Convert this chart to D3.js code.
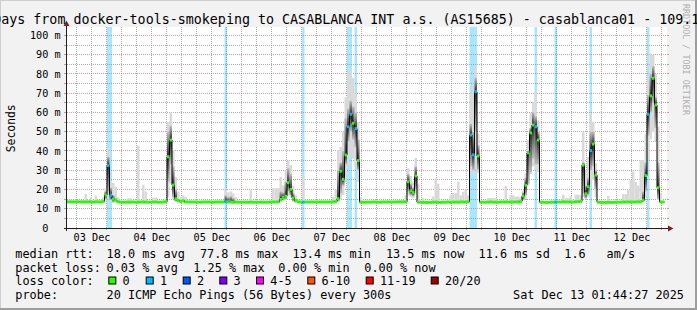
<!DOCTYPE html>
<html>
<head>
<meta charset="utf-8">
<script src="https://cdn.jsdelivr.net/npm/d3@7"></script>
<style>
  body { margin: 0; background: #f2f2f2; }
  svg { display: block; }
  text { font-family: "DejaVu Sans Mono", monospace; fill: #000; }
</style>
</head>
<body>
<svg id="chart" width="697" height="310"></svg>
<script>
// hourly medians (ms), hour 0 = Dec 3 02:00
const median = [
  13.6,13.6,13.6,13.6,13.6,13.6,13.6,13.5,13.6,13.6,13.5,13.6,13.6,13.6,13.8,17.1,32.4,17.0,15.0,14.6,13.6,13.4,13.4,13.4,
  13.4,13.4,13.5,13.4,13.4,13.5,13.5,13.4,13.4,13.4,13.5,13.5,13.4,13.4,13.5,13.6,37.0,45.7,22.3,15.2,14.3,13.8,14.2,13.5,
  13.5,13.5,13.5,13.5,13.4,13.4,13.5,13.5,13.5,13.5,13.4,13.5,13.5,13.5,13.5,13.7,13.6,13.5,13.4,13.4,13.4,13.4,13.4,13.4,
  13.4,13.4,13.4,13.4,13.4,13.4,13.4,13.4,13.4,13.5,13.5,13.5,13.6,14.8,15.8,16.5,23.5,20.1,15.6,14.2,13.6,13.5,13.4,13.5,
  13.5,13.5,13.5,13.5,13.5,13.5,13.5,13.5,13.5,13.5,13.6,13.8,15.2,29.5,25.3,37.9,52.6,59.1,54.4,51.6,35.0,13.4,13.4,13.4,
  13.4,13.4,13.5,13.5,13.4,13.4,13.5,13.5,13.5,13.5,13.5,13.5,13.6,13.6,13.6,13.6,24.0,19.4,18.5,27.0,13.4,13.4,13.3,13.3,
  13.3,13.3,13.4,13.4,13.3,13.3,13.4,13.4,13.5,13.3,13.4,13.4,13.4,13.5,13.5,13.5,13.6,48.3,38.0,70.8,37.4,13.4,13.4,13.4,
  13.4,13.5,13.4,13.4,13.4,13.5,13.5,13.5,13.5,13.5,13.5,13.5,13.6,13.8,16.7,22.2,39.1,49.4,53.5,52.6,45.7,13.4,13.4,13.3,
  13.3,13.4,13.4,13.5,13.5,13.5,13.6,13.5,13.5,13.5,13.5,13.6,13.7,13.8,32.7,17.8,21.5,40.2,43.6,27.5,13.4,13.3,13.3,13.3,
  13.3,13.3,13.3,13.4,13.4,13.4,13.5,13.5,13.5,13.5,13.5,13.5,13.6,13.6,14.5,27.2,59.1,68.6,77.8,63.9,20.9,13.5,13.5,null
];

// hours with lost pings, and how many of 20 were lost
const lossHours = [16, 17, 63, 94, 112, 113, 115, 161, 162, 163, 187, 195, 209, 232];
const lossCounts = [1, 1, 1, 1, 1, 1, 1, 1, 1, 1, 1, 1, 1, 1];

// smoke: [hour, lowest ping, highest ping]
const smokeOuter = [
  [7,13,17.7],[9,13,15.8],[11,13,16.7],[14,13,16],[15,14,20.5],[16,16,40.8],[17,14,24],[18,13,23.4],[19,13,21.5],[20,13,16],
  [24,13,15.5],[25,13,15.5],[28,13,42.8],[30,13,22.5],[31,13,19],[34,13,15.8],[35,13,15.8],
  [39,13,15],[40,16,55],[41,23,60],[42,15,40.5],[43,13.5,26.6],[44,13,19],[45,13,16],[46,13,17],[47,13,16],
  [63,13,20],[64,13,18.5],[65,13,19],[66,13,18],[67,13,16],[73,13,19.6],
  [82,13,20.7],[83,13,20.7],[84,13,20.7],[85,13.5,26.6],[86,14,22],[87,14.5,30],[88,17,35],[89,16,32.7],[90,13.5,22],[91,13,17],
  [94,13,27],
  [106,13,16],[107,13,20],[108,13.5,40.5],[109,15,42],[110,17,50],[111,24,68],[112,32,81],[113,38,82],[114,36,78],[115,32,70],[116,24,55],[117,13,16],
  [135,13,17],[136,17,31],[137,16,27],[138,15.5,24],[139,18,36.5],[140,13,23],
  [142,13,15.6],[146,13,16.3],[147,13,25.8],[148,13,23],[153,13,17],[154,13,18.2],[155,13,18.2],[156,13,24],[157,13,17],[158,13,18.8],[159,13,20],[160,13,17],
  [161,28.6,70],[162,28,75],[163,30,84.7],[164,28.6,49],
  [168,13,15.6],[169,13,15.6],[170,13,15.6],[171,13,15.6],[175,13,21.8],[177,13,17],[178,13,17],[179,13,16.3],[180,13,16.3],
  [181,13,16],[182,14,19.5],[183,15,28.5],[184,22,45.7],[185,28,59.7],[186,32,65.6],[187,30,70.8],[188,29,56],
  [198,13,17.3],[199,13,15.5],[200,13,15.5],[201,13,16.6],[203,13,17.3],[204,13,17.3],
  [205,13.5,17],[206,16,50],[207,15,30],[208,16,37],[209,24,59.7],[210,25,55],[211,16,33.7],
  [216,13,16.6],[222,13,17.6],[223,13,17.6],[224,13,20],[225,13,25],[226,13,29.3],[227,13,24],[228,13,22],[229,13,35.3],
  [230,13.5,35.3],[231,16,49],[232,35,77],[233,46,90.7],[234,50,90],[235,45,80],[236,14.5,52.6],[237,13,18]
];

// dense part of the smoke: [hour, low, high]
const smokeCore = [
  [15,15,19],[16,19,37],[17,14.5,21],[18,13.5,17],
  [40,24,50],[41,33,53],[42,16,32],[43,14,20],
  [63,13.5,17],[64,13.5,16],[65,13.5,16.5],[66,13.5,15.5],
  [85,14,19],[86,14.5,18.5],[87,15,24],[88,19,31],[89,17,28],[90,14,18],
  [108,14,30],[109,18,34],[110,22,40],[111,33,57],[112,45,62],[113,50,66],[114,46,63],[115,42,60],[116,30,46],
  [136,19,28],[137,17,23],[138,16.5,21],[139,20,32],
  [161,32,54],[162,30,50],[163,50,78],[164,30,43],
  [182,14.5,18.5],[183,17,26],[184,23,40],[185,29,52],[186,36,60],[187,33,58],[188,33,50],
  [206,18,34],[207,15.5,22],[208,17,26],[209,30,50],[210,32,50],[211,20,30],
  [230,14,19],[231,19,34],[232,48,69],[233,60,80],[234,65,84],[235,52,68],[236,15,34]
];

const yTicks = [0, 10, 20, 30, 40, 50, 60, 70, 80, 90, 100];
const dayLabels = ["03 Dec", "04 Dec", "05 Dec", "06 Dec", "07 Dec", "08 Dec", "09 Dec", "10 Dec", "11 Dec", "12 Dec"];

const lossLabels = ["0", "1", "2", "3", "4-5", "6-10", "11-19", "20/20"];
const lossColors = ["#26ff00", "#00b8ff", "#0059ff", "#7e00ff", "#ff00ff", "#ff5500", "#ff0000", "#a10000"];
const lossSwatchX = [108.3, 145.7, 182.7, 219.3, 256, 307.3, 365.7, 430.7];

const title = "10 Days from docker-tools-smokeping to CASABLANCA INT a.s. (AS15685) - casablanca01 - 109.1";
const rttLine = [["median rtt:", 16], ["18.0 ms avg", 107.3], ["77.8 ms max", 200.7], ["13.4 ms min", 293.3],
                 ["13.5 ms now", 386.7], ["11.6 ms sd", 479.3], ["1.6", 565], ["am/s", 607.3]];
const lossLine = [["packet loss:", 16], ["0.03 % avg", 107.3], ["1.25 % max", 194], ["0.00 % min", 279], ["0.00 % now", 365]];
const probeText = "20 ICMP Echo Pings (56 Bytes) every 300s";
const stampText = "Sat Dec 13 01:44:27 2025";

const svg = d3.select("#chart");
const pLeft = 67, pRight = 667, pTop = 27, pBottom = 228;
const t0 = Date.UTC(2025, 11, 3, 2);
const HOUR = 36e5;

const x = d3.scaleUtc().domain([new Date(t0), new Date(t0 + 240 * HOUR)]).range([pLeft, pRight]);
const y = d3.scaleLinear().domain([0, 104.4]).range([pBottom, pTop]);
const hx = h => x(new Date(t0 + h * HOUR));

const gridCol = "rgba(143,143,143,0.75)";
const mgridCol = "rgba(222,79,79,0.6)";

// background + bevel
svg.append("rect").attr("width", 697).attr("height", 310).attr("fill", "#f2f2f2");
svg.append("rect").attr("x", 0).attr("y", 0).attr("width", 697).attr("height", 1).attr("fill", "#cfcfcf");
svg.append("rect").attr("x", 0).attr("y", 0).attr("width", 1).attr("height", 310).attr("fill", "#cfcfcf");
svg.append("rect").attr("x", 0).attr("y", 308).attr("width", 697).attr("height", 2).attr("fill", "#9e9e9e");
svg.append("rect").attr("x", 695).attr("y", 0).attr("width", 2).attr("height", 310).attr("fill", "#9e9e9e");

svg.append("rect").attr("x", pLeft).attr("y", pTop).attr("width", pRight - pLeft).attr("height", pBottom - pTop).attr("fill", "#fff");

// grid
const grid = svg.append("g").attr("shape-rendering", "crispEdges");
const hours6 = d3.utcHour.every(6).range(x.domain()[0], x.domain()[1]);
hours6.forEach(d => {
  const major = d.getUTCHours() === 0;
  const px = Math.round(x(d)) - 0.5;
  grid.append("line").attr("x1", px).attr("x2", px).attr("y1", pTop).attr("y2", pBottom)
    .attr("stroke", major ? mgridCol : gridCol).attr("stroke-dasharray", "1,1");
  grid.append("line").attr("x1", px).attr("x2", px).attr("y1", pBottom).attr("y2", pBottom + 2)
    .attr("stroke", major ? mgridCol : gridCol);
});
d3.range(5, 101, 5).forEach(v => {
  const major = v % 10 === 0;
  const py = Math.floor(y(v)) + 0.5;
  const c = major ? mgridCol : gridCol;
  grid.append("line").attr("x1", pLeft).attr("x2", pRight).attr("y1", py).attr("y2", py)
    .attr("stroke", c).attr("stroke-dasharray", "1,1");
  grid.append("line").attr("x1", pLeft - 3).attr("x2", pLeft).attr("y1", py).attr("y2", py).attr("stroke", c);
  grid.append("line").attr("x1", pRight).attr("x2", pRight + 2).attr("y1", py).attr("y2", py).attr("stroke", c);
});

// loss background bands
svg.append("g").selectAll("rect").data(lossHours).join("rect")
  .attr("x", h => hx(h)).attr("width", h => hx(h + 1) - hx(h))
  .attr("y", pTop).attr("height", pBottom - pTop)
  .attr("fill", "rgba(0,184,255,0.35)");

// smoke
svg.append("g").selectAll("rect").data(smokeOuter).join("rect")
  .attr("x", d => hx(d[0])).attr("width", d => hx(d[0] + 1) - hx(d[0]))
  .attr("y", d => y(d[2])).attr("height", d => y(d[1]) - y(d[2]))
  .attr("fill", "#d9d9d9");

const defs = svg.append("defs");
smokeCore.forEach(d => {
  const [h, lo, hi] = d;
  const m = median[h];
  const t = Math.max(0, Math.min(1, (hi - m) / (hi - lo)));
  const g = defs.append("linearGradient").attr("id", "core" + h)
    .attr("x1", 0).attr("y1", 0).attr("x2", 0).attr("y2", 1);
  g.append("stop").attr("offset", 0).attr("stop-color", "#bdbdbd");
  g.append("stop").attr("offset", t).attr("stop-color", "#2b2b2b");
  g.append("stop").attr("offset", 1).attr("stop-color", "#bdbdbd");
});
svg.append("g").selectAll("rect").data(smokeCore).join("rect")
  .attr("x", d => hx(d[0])).attr("width", d => hx(d[0] + 1) - hx(d[0]))
  .attr("y", d => y(d[2])).attr("height", d => y(d[1]) - y(d[2]))
  .attr("fill", d => `url(#core${d[0]})`);

// median step line
const stepPts = [];
median.forEach((m, h) => {
  stepPts.push([hx(h), m]);
  stepPts.push([hx(h + 1), m]);
});
svg.append("path")
  .attr("d", d3.line().defined(d => d[1] != null).x(d => d[0]).y(d => y(d[1]))(stepPts))
  .attr("fill", "none").attr("stroke", "#000").attr("stroke-width", 1);

// median bars coloured by loss
const lossOf = h => {
  const i = lossHours.indexOf(h);
  return i < 0 ? 0 : lossCounts[i];
};
const lossColor = n => n === 0 ? lossColors[0] : n === 1 ? lossColors[1] : n === 2 ? lossColors[2] :
  n === 3 ? lossColors[3] : n <= 5 ? lossColors[4] : n <= 10 ? lossColors[5] : n < 20 ? lossColors[6] : lossColors[7];
svg.append("g").selectAll("rect").data(median.map((m, h) => ({ h, m })).filter(d => d.m != null)).join("rect")
  .attr("x", d => hx(d.h)).attr("width", d => hx(d.h + 1) - hx(d.h))
  .attr("y", d => y(d.m) - 1.5).attr("height", 3)
  .attr("fill", d => lossColor(lossOf(d.h)));

// axes
const axisCol = "#1f1f1f", arrowCol = "#801f1f";
svg.append("line").attr("x1", pLeft - 3).attr("x2", pRight + 4).attr("y1", pBottom + 0.5).attr("y2", pBottom + 0.5)
  .attr("stroke", axisCol).attr("shape-rendering", "crispEdges");
svg.append("line").attr("x1", pLeft - 0.5).attr("x2", pLeft - 0.5).attr("y1", pBottom + 3).attr("y2", pTop - 4)
  .attr("stroke", axisCol).attr("shape-rendering", "crispEdges");
svg.append("path").attr("d", `M${pLeft - 3.5},${pTop - 1}L${pLeft + 2.5},${pTop - 1}L${pLeft - 0.5},${pTop - 6.5}Z`).attr("fill", arrowCol);
svg.append("path").attr("d", `M${pRight + 1},${pBottom - 2.5}L${pRight + 1},${pBottom + 3.5}L${pRight + 6.5},${pBottom + 0.5}Z`).attr("fill", arrowCol);

// y labels
const axisFont = 10.2, cw = axisFont * 0.602;
svg.append("g").selectAll("text").data(yTicks).join("text")
  .attr("x", v => v === 0 ? 60.6 - 2 * cw : 60.6)
  .attr("y", v => y(v) + 3.6)
  .attr("text-anchor", "end").attr("font-size", axisFont)
  .text(v => v === 0 ? "0" : v + " m");

// day labels at noon
svg.append("g").selectAll("text").data(dayLabels).join("text")
  .attr("x", (d, i) => x(new Date(Date.UTC(2025, 11, 3 + i, 12))))
  .attr("y", 241).attr("text-anchor", "middle").attr("font-size", axisFont)
  .text(d => d);

svg.append("text").attr("transform", "translate(15,128.3) rotate(-90)")
  .attr("text-anchor", "middle").attr("font-size", 11.4).text("Seconds");

svg.append("text").attr("transform", "translate(683,59.5) rotate(90)")
  .attr("text-anchor", "middle").attr("font-size", 8.4).style("fill", "#b0b0b0")
  .text("RRDTOOL / TOBI OETIKER");

// title
svg.append("text").attr("x", -30.9).attr("y", 23.7).attr("font-size", 13.33).text(title);

// legend
const legFont = 11.84;
const leg = svg.append("g").attr("font-size", legFont);
rttLine.forEach(([t, px]) => leg.append("text").attr("x", px - 0.7).attr("y", 258.3).text(t));
lossLine.forEach(([t, px]) => leg.append("text").attr("x", px - 0.7).attr("y", 271.8).text(t));
leg.append("text").attr("x", 15.3).attr("y", 285.3).text("loss color:");
lossLabels.forEach((t, i) => {
  leg.append("rect").attr("x", lossSwatchX[i] + 0.5).attr("y", 277).attr("width", 7).attr("height", 7)
    .attr("fill", lossColors[i]).attr("stroke", "#000").attr("stroke-width", 1);
  leg.append("text").attr("x", lossSwatchX[i] + 14.3).attr("y", 285.3).text(t);
});
leg.append("text").attr("x", 15.3).attr("y", 298.8).text("probe:");
leg.append("text").attr("x", 106.6).attr("y", 298.8).text(probeText);
leg.append("text").attr("x", 684).attr("y", 298.8).attr("text-anchor", "end").text(stampText);
</script>
</body>
</html>
